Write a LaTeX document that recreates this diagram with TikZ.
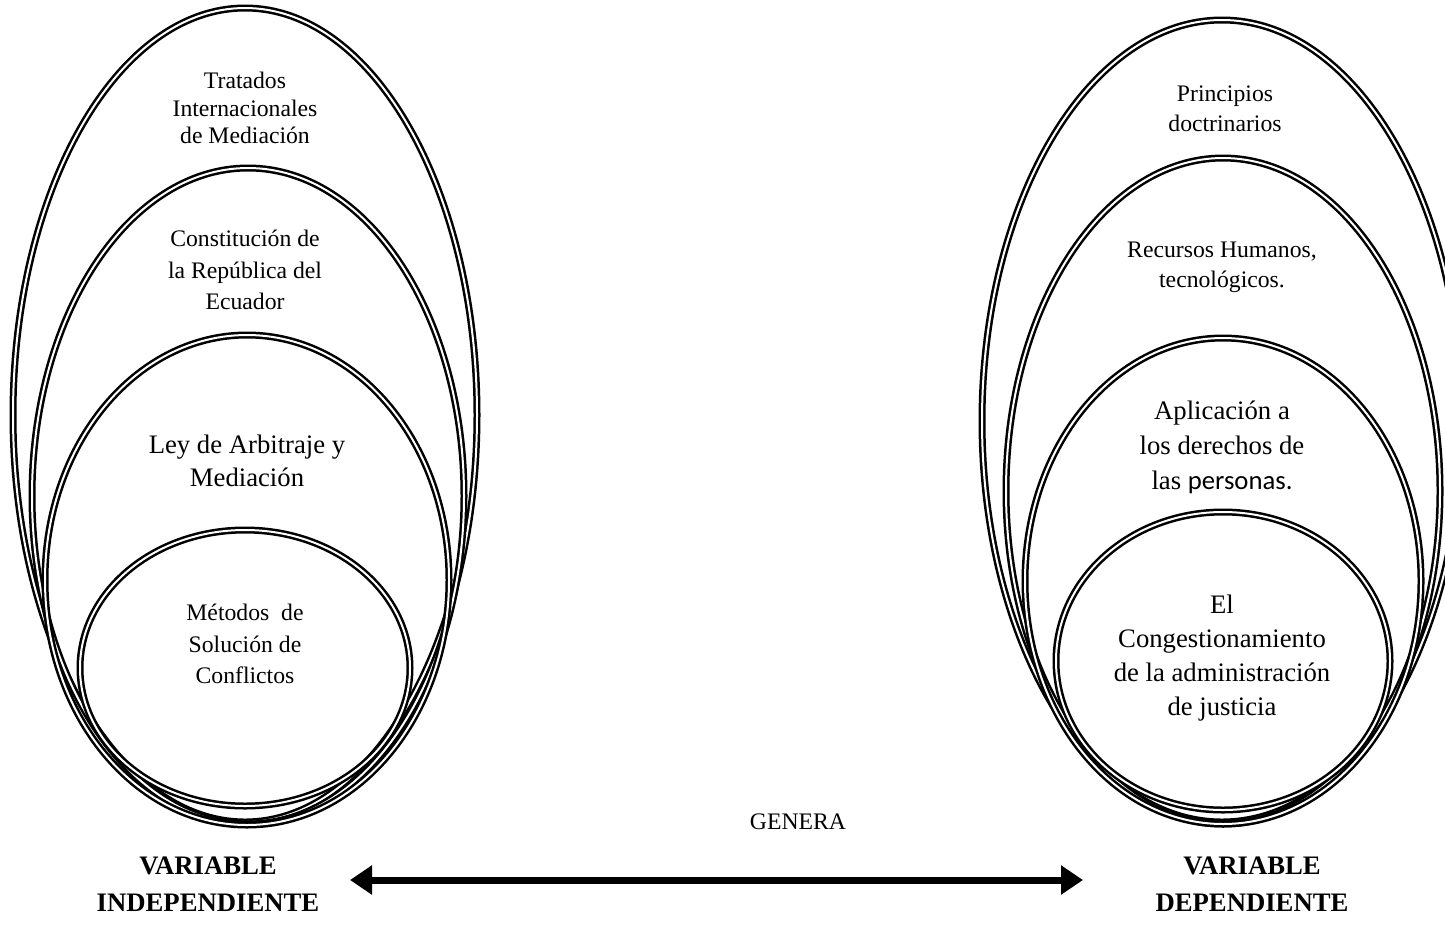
\documentclass[tikz,border=0pt]{standalone}
\usepackage{fontspec}
\setmainfont{Liberation Serif}
\newfontfamily\calibrifont{Carlito}
\usetikzlibrary{arrows.meta}
\begin{document}
\begin{tikzpicture}[x=0.5pt,y=-0.5pt,
  ring/.style={draw=black, double=white, line width=1.25pt, double distance=1pt},
  smalltxt/.style={align=center, inner sep=0pt},
  bigtxt/.style={align=center, inner sep=0pt},
  lab/.style={align=center, inner sep=0pt, font=\fontsize{13.35}{18.5}\selectfont\bfseries},
  link/.style={line width=3.5pt, {Triangle[length=11pt,width=14pt]}-{Triangle[length=11pt,width=14pt]}}
]
\useasboundingbox (0,0) rectangle (1445,944);
\clip (0,0) rectangle (1445,944);
\fill[white] (0,0) rectangle (1445,944);

% left group
\draw[ring] (245,415) ellipse [x radius=116pt, y radius=203.5pt];
\draw[ring] (248,496) ellipse [x radius=108pt, y radius=164pt];
\draw[ring] (247,580) ellipse [x radius=101pt, y radius=122.5pt];
\draw[ring] (245,668) ellipse [x radius=82.5pt, y radius=69pt];

% right group
\draw[ring] (1222,421) ellipse [x radius=120pt, y radius=200.5pt];
\draw[ring] (1223,491) ellipse [x radius=108.5pt, y radius=166.5pt];
\draw[ring] (1223,581) ellipse [x radius=99pt, y radius=121.5pt];
\draw[ring] (1223,661) ellipse [x radius=83.5pt, y radius=74.5pt];

% texts left
\node[smalltxt, font=\fontsize{11.85}{13.75}\selectfont] (tratados) at (245,108) {Tratados\\Internacionales\\de Mediación};
\node[smalltxt, font=\fontsize{11.85}{15.85}\selectfont] (constitucion) at (245,270) {Constitución de\\la República del\\Ecuador};
\node[bigtxt, font=\fontsize{13.35}{16.5}\selectfont] (ley) at (247,461) {Ley de Arbitraje y\\Mediación};
\node[smalltxt, font=\fontsize{11.85}{15.8}\selectfont] (metodos) at (245,644) {Métodos\ \ de\\Solución de\\Conflictos};

% texts right
\node[smalltxt, font=\fontsize{11.85}{15}\selectfont] (principios) at (1225,109) {Principios\\doctrinarios};
\node[smalltxt, font=\fontsize{11.85}{15}\selectfont] (recursos) at (1222,267) {Recursos Humanos,\\tecnológicos.};
\node[bigtxt, font=\fontsize{13.35}{17.5}\selectfont] (aplicacion) at (1222,447) {Aplicación a\\los derechos de\\las {\calibrifont personas.}};
\node[bigtxt, font=\fontsize{13.35}{17}\selectfont] (congest) at (1222,658) {El\\Congestionamiento\\de la administración\\de justicia};

% bottom
\node[smalltxt, font=\fontsize{11.85}{14}\selectfont] (genera) at (798,822) {GENERA};
\node[lab] (vi) at (208,884) {VARIABLE\\INDEPENDIENTE};
\node[lab] (vd) at (1252,884) {VARIABLE\\DEPENDIENTE};
\coordinate (aL) at (350,880);
\coordinate (aR) at (1083,880);
\draw[link] (aL) -- (aR);
\end{tikzpicture}
\end{document}
